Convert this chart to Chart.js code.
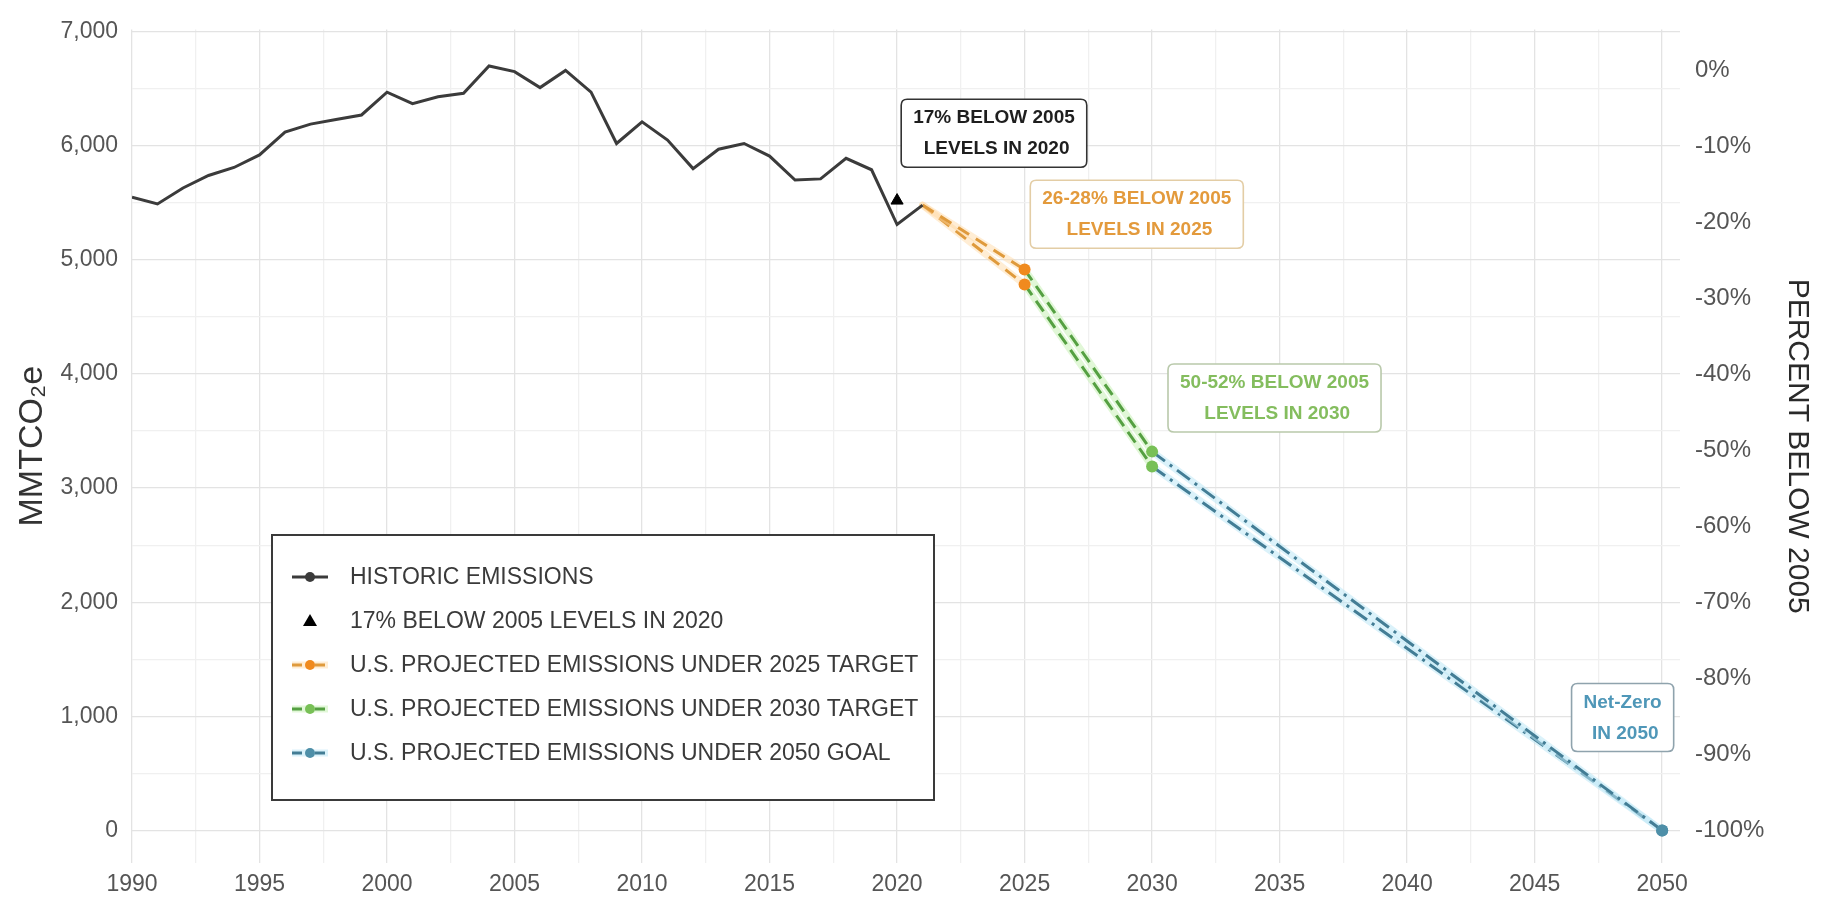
<!DOCTYPE html>
<html>
<head>
<meta charset="utf-8">
<script src="https://cdn.jsdelivr.net/npm/chart.js@4.4.1/dist/chart.umd.min.js"></script>
<style>
  html, body { margin: 0; padding: 0; background: #fff; }
  #wrap { width: 1847px; height: 908px; }
</style>
</head>
<body>
<div id="wrap"><canvas id="emissionsChart"></canvas></div>
<script>
// historic emissions (MMTCO2e)
const historicYears = [1990, 1991, 1992, 1993, 1994, 1995, 1996, 1997, 1998, 1999,
    2000, 2001, 2002, 2003, 2004, 2005, 2006, 2007, 2008, 2009,
    2010, 2011, 2012, 2013, 2014, 2015, 2016, 2017, 2018, 2019, 2020, 2021];
const historicValues = [5550, 5490, 5630, 5740, 5810, 5920, 6120, 6190, 6230, 6270,
    6470, 6370, 6430, 6460, 6700, 6650, 6510, 6660, 6470, 6020,
    6210, 6050, 5800, 5970, 6020, 5910, 5700, 5710, 5890, 5790, 5310, 5480];

// 17% below 2005 levels in 2020
const target2020Years = [2020];
const target2020Values = [5520];

// projected paths, upper and lower bound of each target range
const proj2025Years = [2021, 2025];
const proj2025High = [5480, 4915];
const proj2025Low = [5480, 4785];
const proj2030Years = [2025, 2030];
const proj2030High = [4915, 3320];
const proj2030Low = [4785, 3190];
const proj2050Years = [2030, 2050];
const proj2050High = [3320, 0];
const proj2050Low = [3190, 0];

// 2005 emissions, 0% on the right axis
const level2005 = 6660;

// tick labels
const yearTicks = [1990, 1995, 2000, 2005, 2010, 2015, 2020, 2025, 2030, 2035, 2040, 2045, 2050];
const emissionTicks = [0, 1000, 2000, 3000, 4000, 5000, 6000, 7000];
const percentTicks = [0, -10, -20, -30, -40, -50, -60, -70, -80, -90, -100];

const legendLabels = [
    'HISTORIC EMISSIONS',
    '17% BELOW 2005 LEVELS IN 2020',
    'U.S. PROJECTED EMISSIONS UNDER 2025 TARGET',
    'U.S. PROJECTED EMISSIONS UNDER 2030 TARGET',
    'U.S. PROJECTED EMISSIONS UNDER 2050 GOAL'
];

const noteTexts = [
    ['17% BELOW 2005', ' LEVELS IN 2020'],
    ['26-28% BELOW 2005', ' LEVELS IN 2025'],
    ['50-52% BELOW 2005', ' LEVELS IN 2030'],
    ['Net-Zero', ' IN 2050']
];

const yMin = -285, yMax = 7020;
const FONT = "'Liberation Sans', Arial, sans-serif";

function pairs(xs, ys) {
    return xs.map((x, i) => ({ x: x, y: ys[i] }));
}

// minor grid lines halfway between labelled ticks
function withMinors(majors) {
    const out = [];
    majors.forEach((v, i) => {
        out.push(v);
        if (i < majors.length - 1) out.push((v + majors[i + 1]) / 2);
    });
    return out.map(v => ({ value: v }));
}

const orange = { line: '#df9a3c', point: '#f08a1e', halo: 'rgba(255, 215, 160, 0.45)' };
const green = { line: '#55a042', point: '#78c056', halo: 'rgba(195, 240, 175, 0.5)' };
const blue = { line: '#437d95', point: '#4e8fa8', halo: 'rgba(190, 232, 246, 0.55)' };

function projection(label, xs, ys, c, dash) {
    return {
        label: label,
        data: pairs(xs, ys),
        borderColor: c.line,
        borderWidth: 3,
        borderDash: dash,
        halo: c.halo,
        pointRadius: [0, 6],
        pointBackgroundColor: c.point,
        pointBorderColor: c.point,
        pointBorderWidth: 0,
        tension: 0
    };
}

const datasets = [
    {
        label: legendLabels[0],
        data: pairs(historicYears, historicValues),
        borderColor: '#3b3b3b',
        pointBackgroundColor: '#3b3b3b',
        borderWidth: 3,
        pointRadius: 0,
        tension: 0
    },
    {
        label: legendLabels[1],
        data: pairs(target2020Years, target2020Values),
        showLine: false,
        pointStyle: 'triangle',
        pointRadius: 7,
        pointBackgroundColor: '#000',
        pointBorderColor: '#000',
        borderColor: '#000'
    },
    projection(legendLabels[2], proj2025Years, proj2025High, orange, [13, 8]),
    projection(legendLabels[2], proj2025Years, proj2025Low, orange, [13, 8]),
    projection(legendLabels[3], proj2030Years, proj2030High, green, [13, 7]),
    projection(legendLabels[3], proj2030Years, proj2030Low, green, [13, 7]),
    projection(legendLabels[4], proj2050Years, proj2050High, blue, [16, 6, 3, 6]),
    projection(legendLabels[4], proj2050Years, proj2050Low, blue, [16, 6, 3, 6])
];

// light band under the dashed projections
const haloPlugin = {
    id: 'halo',
    beforeDatasetDraw(chart, args) {
        const ds = chart.data.datasets[args.index];
        if (!ds.halo) return;
        const pts = args.meta.data;
        const ctx = chart.ctx;
        ctx.save();
        ctx.strokeStyle = ds.halo;
        ctx.lineWidth = 7;
        ctx.lineCap = 'round';
        ctx.beginPath();
        pts.forEach((p, i) => i ? ctx.lineTo(p.x, p.y) : ctx.moveTo(p.x, p.y));
        ctx.stroke();
        ctx.restore();
    }
};

function roundBox(ctx, x, y, w, h, r) {
    ctx.beginPath();
    ctx.moveTo(x + r, y);
    ctx.lineTo(x + w - r, y);
    ctx.quadraticCurveTo(x + w, y, x + w, y + r);
    ctx.lineTo(x + w, y + h - r);
    ctx.quadraticCurveTo(x + w, y + h, x + w - r, y + h);
    ctx.lineTo(x + r, y + h);
    ctx.quadraticCurveTo(x, y + h, x, y + h - r);
    ctx.lineTo(x, y + r);
    ctx.quadraticCurveTo(x, y, x + r, y);
    ctx.closePath();
}

// labelled boxes, anchored at their centre in data units
const notes = [
    { text: noteTexts[0], at: [2023.8, 6110], color: '#1e1e1e', border: '#333333' },
    { text: noteTexts[1], at: [2029.4, 5400], color: '#e39a3c', border: '#e3cda5' },
    { text: noteTexts[2], at: [2034.8, 3790], color: '#84bd5e', border: '#b9c9ab' },
    { text: noteTexts[3], at: [2048.45, 990], color: '#4f97b8', border: '#8fa3ad' }
];

const notesPlugin = {
    id: 'notes',
    afterDatasetsDraw(chart) {
        const ctx = chart.ctx;
        const xs = chart.scales.x, ys = chart.scales.y;
        ctx.save();
        ctx.font = 'bold 19px ' + FONT;
        notes.forEach(n => {
            const cx = xs.getPixelForValue(n.at[0]);
            const cy = ys.getPixelForValue(n.at[1]);
            const w = Math.max(...n.text.map(t => ctx.measureText(t).width)) + 24;
            const h = 68;
            roundBox(ctx, cx - w / 2, cy - h / 2, w, h, 6);
            ctx.fillStyle = '#fff';
            ctx.fill();
            ctx.lineWidth = 1.6;
            ctx.strokeStyle = n.border;
            ctx.stroke();
            ctx.fillStyle = n.color;
            ctx.textAlign = 'center';
            ctx.textBaseline = 'middle';
            ctx.fillText(n.text[0], cx, cy - 15);
            ctx.fillText(n.text[1], cx, cy + 16);
        });
        ctx.restore();
    }
};

// legend box inside the plot
const legendPlugin = {
    id: 'boxLegend',
    afterDraw(chart) {
        const ctx = chart.ctx;
        const left = 272, top = 535, width = 662, height = 265;
        ctx.save();
        ctx.fillStyle = '#fff';
        ctx.fillRect(left, top, width, height);
        ctx.lineWidth = 2;
        ctx.strokeStyle = '#3a3a3a';
        ctx.strokeRect(left, top, width, height);
        ctx.font = '23px ' + FONT;
        ctx.textBaseline = 'middle';
        legendLabels.forEach((label, i) => {
            const ds = chart.data.datasets.find(d => d.label === label);
            const y = top + 42 + i * 44;
            const sx = 310;
            if (ds.showLine === false) {
                ctx.fillStyle = ds.pointBackgroundColor;
                ctx.beginPath();
                ctx.moveTo(sx, y - 7);
                ctx.lineTo(sx + 7, y + 5);
                ctx.lineTo(sx - 7, y + 5);
                ctx.closePath();
                ctx.fill();
            } else {
                if (ds.halo) {
                    ctx.strokeStyle = ds.halo;
                    ctx.lineWidth = 7;
                    ctx.setLineDash([]);
                    ctx.beginPath();
                    ctx.moveTo(sx - 18, y);
                    ctx.lineTo(sx + 18, y);
                    ctx.stroke();
                }
                ctx.strokeStyle = ds.borderColor;
                ctx.lineWidth = 3;
                ctx.setLineDash(ds.borderDash ? [10, 5, 3, 5] : []);
                ctx.beginPath();
                ctx.moveTo(sx - 18, y);
                ctx.lineTo(sx + 18, y);
                ctx.stroke();
                ctx.setLineDash([]);
                ctx.fillStyle = ds.pointBackgroundColor;
                ctx.beginPath();
                ctx.arc(sx, y, 5, 0, Math.PI * 2);
                ctx.fill();
            }
            ctx.fillStyle = '#3a3a3a';
            ctx.textAlign = 'left';
            ctx.fillText(label, 350, y + 1);
        });
        ctx.restore();
    }
};

const toPct = v => (v / level2005 - 1) * 100;

Chart.defaults.font.family = FONT;

const ctx = document.getElementById('emissionsChart').getContext('2d');
new Chart(ctx, {
    type: 'line',
    data: { datasets: datasets },
    plugins: [haloPlugin, notesPlugin, legendPlugin],
    options: {
        responsive: true,
        maintainAspectRatio: false,
        animation: false,
        layout: { padding: { top: 12, left: 0, right: 0, bottom: 0 } },
        plugins: { legend: { display: false }, tooltip: { enabled: false } },
        scales: {
            x: {
                type: 'linear',
                min: 1990,
                max: 2050.7,
                afterBuildTicks: scale => { scale.ticks = withMinors(yearTicks); },
                afterFit: scale => { scale.height = 45; },
                ticks: {
                    padding: 8,
                    color: '#555',
                    font: { size: 23 },
                    maxRotation: 0,
                    autoSkip: false,
                    callback: v => yearTicks.includes(v) ? String(v) : ''
                },
                grid: {
                    drawTicks: false,
                    color: c => yearTicks.includes(c.tick.value) ? '#e3e3e3' : '#f0f0f0',
                    lineWidth: 1.3
                },
                border: { display: false }
            },
            y: {
                type: 'linear',
                position: 'left',
                min: yMin,
                max: yMax,
                afterBuildTicks: scale => { scale.ticks = withMinors(emissionTicks); },
                afterFit: scale => { scale.width = 132; },
                title: {
                    display: true,
                    text: 'MMTCO₂e',
                    color: '#333',
                    font: { size: 34 },
                    padding: { top: 12, bottom: 0 }
                },
                ticks: {
                    padding: 14,
                    color: '#555',
                    font: { size: 23 },
                    autoSkip: false,
                    callback: v => emissionTicks.includes(v) ? v.toLocaleString('en-US') : ''
                },
                grid: {
                    drawTicks: false,
                    color: c => emissionTicks.includes(c.tick.value) ? '#e3e3e3' : '#f0f0f0',
                    lineWidth: 1.3
                },
                border: { display: false }
            },
            y2: {
                type: 'linear',
                position: 'right',
                min: toPct(yMin),
                max: toPct(yMax),
                afterBuildTicks: scale => { scale.ticks = percentTicks.map(v => ({ value: v })); },
                afterFit: scale => { scale.width = 167; },
                title: {
                    display: true,
                    text: 'PERCENT BELOW 2005',
                    color: '#2a2a2a',
                    font: { size: 30 },
                    padding: { top: 32, bottom: 0 }
                },
                ticks: {
                    padding: 15,
                    color: '#555',
                    font: { size: 24 },
                    autoSkip: false,
                    callback: v => v + '%'
                },
                grid: { drawOnChartArea: false, drawTicks: false },
                border: { display: false }
            }
        }
    }
});
</script>
</body>
</html>
